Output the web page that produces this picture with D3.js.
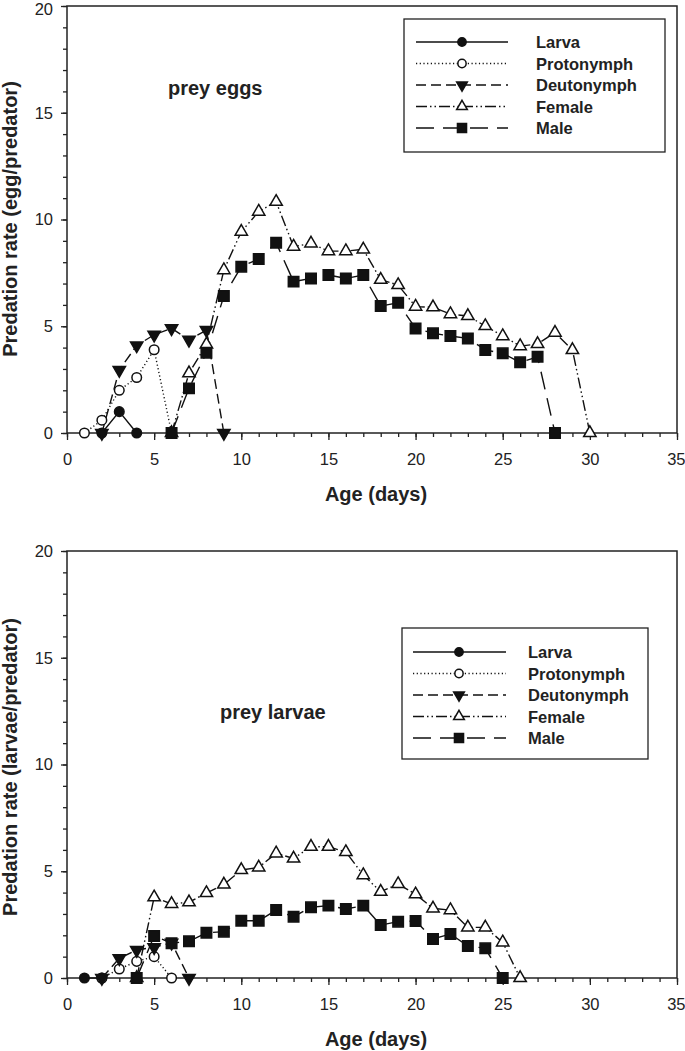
<!DOCTYPE html>
<html><head><meta charset="utf-8">
<script src="https://cdn.jsdelivr.net/npm/d3@7"></script>
<style>body{margin:0;background:#fff}svg{display:block}text{font-family:"Liberation Sans",Arial,sans-serif;fill:#222}</style>
</head><body>
<script>
// ---- data ----
const seriesNames = ["Larva","Protonymph","Deutonymph","Female","Male"];
const xTicks = [0,5,10,15,20,25,30,35];
const yTicks = [0,5,10,15,20];

// prey eggs panel
const eggLarva = [[2,0],[3,1.0],[4,0]];
const eggProto = [[1,0],[2,0.6],[3,2.0],[4,2.6],[5,3.9],[6,0]];
const eggDeuto = [[2,0],[3,2.95],[4,4.1],[5,4.6],[6,4.9],[7,4.36],[8,4.82],[9,0]];
const eggFemale = [[6,0],[7,2.8],[8,4.15],[9,7.63],[10,9.43],[11,10.37],[12,10.83],[13,8.73],[14,8.88],[15,8.52],[16,8.52],[17,8.6],[18,7.18],[19,6.93],[20,5.92],[21,5.89],[22,5.57],[23,5.48],[24,5.01],[25,4.54],[26,4.07],[27,4.17],[28,4.7],[29,3.89],[30,0]];
const eggMale = [[6,0],[7,2.09],[8,3.76],[9,6.42],[10,7.79],[11,8.15],[12,8.91],[13,7.09],[14,7.24],[15,7.4],[16,7.24],[17,7.4],[18,5.95],[19,6.1],[20,4.9],[21,4.67],[22,4.54],[23,4.43],[24,3.89],[25,3.73],[26,3.31],[27,3.57],[28,0]];

// prey larvae panel
const larLarva = [[1,0],[2,0]];
const larProto = [[2,0],[3,0.42],[4,0.78],[5,1.0],[6,0]];
const larDeuto = [[2,0],[3,0.92],[4,1.31],[5,1.44],[6,1.65],[7,0]];
const larFemale = [[4,0],[5,3.78],[6,3.47],[7,3.55],[8,3.98],[9,4.38],[10,5.06],[11,5.18],[12,5.84],[13,5.6],[14,6.15],[15,6.15],[16,5.9],[17,4.82],[18,4.04],[19,4.4],[20,3.92],[21,3.26],[22,3.18],[23,2.37],[24,2.37],[25,1.67],[26,0]];
const larMale = [[4,0],[5,1.97],[6,1.63],[7,1.72],[8,2.12],[9,2.17],[10,2.68],[11,2.68],[12,3.18],[13,2.87],[14,3.31],[15,3.39],[16,3.23],[17,3.39],[18,2.48],[19,2.64],[20,2.67],[21,1.83],[22,2.06],[23,1.5],[24,1.39],[25,0]];

const panels = [
  {title:"prey eggs", ylabel:"Predation rate (egg/predator)", data:[eggLarva,eggProto,eggDeuto,eggFemale,eggMale],
   top:6, bottom:433, titleX:168, titleY:95, leg:{x:404,y:19,w:261,h:133,row0:42,lineX0:416,lineX1:508,mx:462,tx:536}, xlabY:501, ylabY:219},
  {title:"prey larvae", ylabel:"Predation rate (larvae/predator)", data:[larLarva,larProto,larDeuto,larFemale,larMale],
   top:551, bottom:978, titleX:220, titleY:719, leg:{x:402,y:628,w:246,h:131,row0:652,lineX0:413,lineX1:506,mx:459,tx:528}, xlabY:1046, ylabY:767}
];

const styles = [
  {dash:null, sym:d3.symbolCircle, size:72, fill:"#111", rot:0},
  {dash:"1.2,2.5", sym:d3.symbolCircle, size:72, fill:"#fff", rot:0},
  {dash:"10,5", sym:d3.symbolTriangle, size:66, fill:"#111", rot:180},
  {dash:"11,3,1.5,3,1.5,3", sym:d3.symbolTriangle, size:66, fill:"#fff", rot:0},
  {dash:"18,9", sym:d3.symbolSquare, size:110, fill:"#111", rot:0}
];

const W=685,H=1051, L=67, R=677;
const svg = d3.select("body").append("svg").attr("width",W).attr("height",H);

panels.forEach((p,pi)=>{
  const x = d3.scaleLinear().domain([0,35]).range([L,R]);
  const y = d3.scaleLinear().domain([0,20]).range([p.bottom,p.top]);
  const g = svg.append("g");
  // frame
  g.append("rect").attr("x",L).attr("y",p.top).attr("width",R-L).attr("height",p.bottom-p.top)
   .attr("fill","none").attr("stroke","#222").attr("stroke-width",1.5);
  // axes
  const xMinor = d3.axisBottom(x).tickValues(d3.range(0,36,1)).tickSize(4).tickFormat("");
  const xMajor = d3.axisBottom(x).tickValues(xTicks).tickSize(7).tickPadding(13);
  const yMinor = d3.axisLeft(y).tickValues(d3.range(0,21,1)).tickSize(4).tickFormat("");
  const yMajor = d3.axisLeft(y).tickValues(yTicks).tickSize(6).tickPadding(8);
  const xa = [xMinor,xMajor].map(a=>g.append("g").attr("transform",`translate(0,${p.bottom})`).call(a));
  const ya = [yMinor,yMajor].map(a=>g.append("g").attr("transform",`translate(${L},0)`).call(a));
  g.selectAll(".domain").remove();
  g.selectAll(".tick line").attr("stroke","#222").attr("stroke-width",1.3);
  g.selectAll(".tick text").attr("font-size",16.5).attr("fill","#222").attr("font-family","Liberation Sans, Arial, sans-serif");
  xa[1].selectAll(".tick text").filter(d=>d===35).attr("text-anchor","end").attr("dx","8");
  if(pi===0) ya[1].selectAll(".tick text").filter(d=>d===20).attr("dy","0.5em");
  // labels
  g.append("text").attr("x",(L+R)/2+4).attr("y",p.xlabY).attr("text-anchor","middle")
   .attr("font-size",20).attr("font-weight","bold").text("Age (days)");
  g.append("text").attr("transform",`translate(17,${p.ylabY}) rotate(-90)`).attr("text-anchor","middle")
   .attr("font-size",20).attr("font-weight","bold").text(p.ylabel);
  g.append("text").attr("x",p.titleX).attr("y",p.titleY).attr("font-size",20).attr("font-weight","bold").text(p.title);
  // series lines
  const line = d3.line().x(d=>x(d[0])).y(d=>y(d[1]));
  p.data.forEach((ser,i)=>{
    const s = styles[i];
    g.append("path").datum(ser).attr("d",line).attr("fill","none").attr("stroke","#111")
     .attr("stroke-width",1.4).attr("stroke-dasharray",s.dash);
  });
  p.data.forEach((ser,i)=>{
    const s = styles[i];
    const sym = d3.symbol().type(s.sym).size(s.size);
    g.selectAll(null).data(ser).join("path")
     .attr("transform",d=>`translate(${x(d[0])},${y(d[1])}) rotate(${s.rot})`)
     .attr("d",sym).attr("fill",s.fill).attr("stroke","#111").attr("stroke-width",1.5);
  });
  // legend
  const lg = p.leg;
  g.append("rect").attr("x",lg.x).attr("y",lg.y).attr("width",lg.w).attr("height",lg.h)
   .attr("fill","#fff").attr("stroke","#222").attr("stroke-width",1.3);
  seriesNames.forEach((n,i)=>{
    const s = styles[i];
    const yy = lg.row0 + i*21.5;
    g.append("line").attr("x1",lg.lineX0).attr("x2",lg.lineX1).attr("y1",yy).attr("y2",yy)
     .attr("stroke","#111").attr("stroke-width",1.4).attr("stroke-dasharray",s.dash);
    const sym = d3.symbol().type(s.sym).size(s.size*0.75);
    g.append("path").attr("transform",`translate(${lg.mx},${yy}) rotate(${s.rot})`).attr("d",sym)
     .attr("fill",s.fill).attr("stroke","#111").attr("stroke-width",1.5);
    g.append("text").attr("x",lg.tx).attr("y",yy+6).attr("font-size",16.5).attr("font-weight","bold").text(n);
  });
});
</script>
</body></html>
